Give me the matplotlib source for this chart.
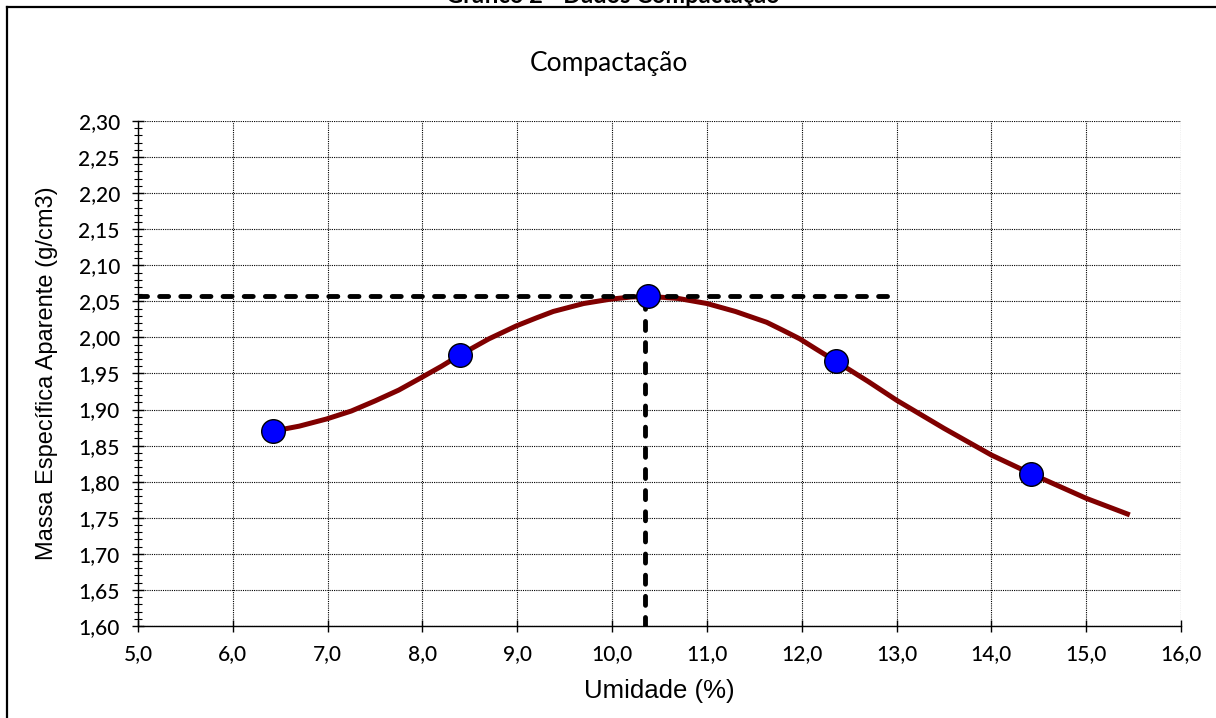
import numpy as np
import matplotlib
matplotlib.use('Agg')
import matplotlib.pyplot as plt
from matplotlib.ticker import MultipleLocator, FuncFormatter
from matplotlib.lines import Line2D

# ensaio de compactacao - pontos medidos
umidade = [6.42, 8.40, 10.38, 12.36, 14.42]
massa_esp = [1.870, 1.976, 2.057, 1.967, 1.811]

# curva ajustada
curva_x = [6.42, 6.70, 6.99, 7.25, 7.50, 7.75, 7.97, 8.20, 8.40, 8.70, 8.99, 9.20,
           9.38, 9.70, 9.98, 10.20, 10.38, 10.70, 11.00, 11.30, 11.63, 11.80, 11.98,
           12.15, 12.36, 12.70, 13.00, 13.50, 14.00, 14.42, 15.00, 15.46]
curva_y = [1.870, 1.877, 1.887, 1.898, 1.912, 1.927, 1.943, 1.960, 1.976, 1.998,
           2.016, 2.027, 2.036, 2.047, 2.053, 2.056, 2.057, 2.054, 2.047, 2.036,
           2.021, 2.010, 1.998, 1.984, 1.967, 1.939, 1.913, 1.874, 1.837, 1.811,
           1.777, 1.754]

# linhas de referencia (umidade otima / massa especifica maxima)
h_ref_x = [5.0, 12.9]
h_ref_y = [2.057, 2.057]
v_ref_x = [10.35, 10.35]
v_ref_y = [1.60, 2.057]

title_font = 'Lato'
label_font = 'Liberation Sans'

fig = plt.figure(figsize=(12.16, 7.18), dpi=100)
ax = fig.add_axes([138/1216, 1 - 626/718, (1181-138)/1216, (626-121)/718])

ax.plot(curva_x, curva_y, color='#800000', lw=3.6, solid_capstyle='butt',
        solid_joinstyle='round', zorder=3)
ax.plot(h_ref_x, h_ref_y, color='black', lw=3.5, dashes=(1.85, 2.5),
        dash_capstyle='round', zorder=4)
ax.plot(v_ref_x, v_ref_y, color='black', lw=3.5, dashes=(1.85, 2.5),
        dash_capstyle='round', zorder=4)
ax.plot(umidade, massa_esp, 'o', ms=17, mfc='#0000ff', mec='black', mew=1.0,
        zorder=5, clip_on=False)

ax.set_xlim(5.0, 16.0)
ax.set_ylim(1.60, 2.30)
ax.xaxis.set_major_locator(MultipleLocator(1.0))
ax.yaxis.set_major_locator(MultipleLocator(0.05))
ax.yaxis.set_minor_locator(MultipleLocator(0.01))
ax.xaxis.set_major_formatter(FuncFormatter(lambda v, p: f"{v:.1f}".replace('.', ',')))
ax.yaxis.set_major_formatter(FuncFormatter(lambda v, p: f"{v:.2f}".replace('.', ',')))

ax.grid(True, which='major', color='black', linestyle=(0, (1, 1)), lw=0.8)
ax.set_axisbelow(True)
for s in ['top', 'right']:
    ax.spines[s].set_visible(False)
for s in ['left', 'bottom']:
    ax.spines[s].set_linewidth(1.0)

ax.tick_params(axis='both', which='major', direction='inout', length=8, width=1.0,
               labelsize=15)
ax.tick_params(axis='x', which='major', pad=9)
ax.tick_params(axis='y', which='major', pad=9)
ax.tick_params(axis='y', which='minor', direction='inout', length=6, width=0.8)
for lab in ax.get_xticklabels() + ax.get_yticklabels():
    lab.set_fontfamily(title_font)
    lab.set_fontweight('medium')

ax.set_xlabel('Umidade (%)', fontsize=18.5, family=label_font, labelpad=11)
ax.set_ylabel('Massa Específica Aparente (g/cm3)', fontsize=17, family=label_font,
              labelpad=15)

fig.text(609/1216, 1 - 63/718, 'Compactação', ha='center', va='center',
         fontsize=19, family=title_font)
fig.text(613/1216, 1 - 3/718, 'Gráfico 2 - Dados Compactação', ha='center',
         va='baseline', fontsize=17, fontweight='bold', family=title_font)

# moldura
fig.add_artist(Line2D([7/1216, 1.0], [1 - 7/718, 1 - 7/718], color='black', lw=1.6,
                      transform=fig.transFigure))
fig.add_artist(Line2D([7/1216, 7/1216], [0.0, 1 - 7/718], color='black', lw=1.6,
                      transform=fig.transFigure))

fig.savefig('out.png', dpi=100)
